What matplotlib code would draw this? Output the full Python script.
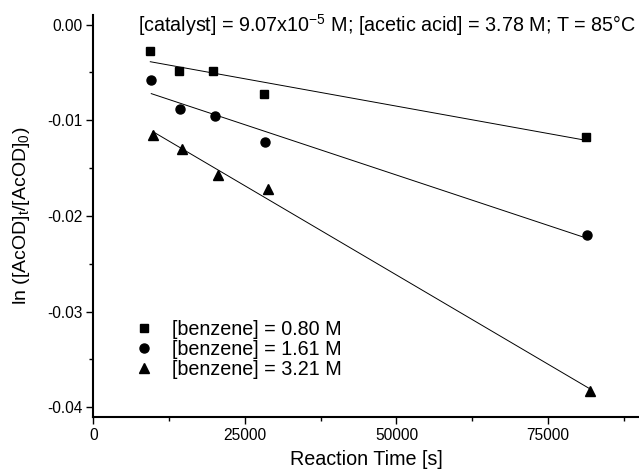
import numpy as np
import matplotlib
matplotlib.use("Agg")
import matplotlib.pyplot as plt
from matplotlib.ticker import MultipleLocator

plt.rcParams['font.family'] = ['Liberation Sans', 'DejaVu Sans']

# data
t_080 = [9400, 14100, 19800, 28100, 81300]
y_080 = [-0.00273, -0.00482, -0.00485, -0.0073, -0.01177]
t_161 = [9560, 14340, 20100, 28350, 81470]
y_161 = [-0.00577, -0.0088, -0.0095, -0.0123, -0.0220]
t_321 = [9840, 14620, 20500, 28840, 81970]
y_321 = [-0.0115, -0.0130, -0.0157, -0.0172, -0.0383]
labels = ["[benzene] = 0.80 M", "[benzene] = 1.61 M", "[benzene] = 3.21 M"]
markers = ["s", "o", "^"]
msizes = [6, 6.5, 7]

fig = plt.figure(figsize=(6.39, 4.71), dpi=100)
ax = fig.add_axes([0.146, 0.115, 0.854, 0.853])

for t, y, lab, m, ms in zip([t_080, t_161, t_321], [y_080, y_161, y_321], labels, markers, msizes):
    t = np.array(t); y = np.array(y)
    ax.plot(t, y, linestyle='none', marker=m, color='black', markersize=ms, label=lab)
    k, b = np.polyfit(t, y, 1)
    xs = np.array([t.min(), t.max()])
    ax.plot(xs, k * xs + b, color='black', linewidth=0.7)

ax.set_xlim(0, 90000)
ax.set_ylim(-0.041, 0.001)
ax.xaxis.set_minor_locator(MultipleLocator(12500))
ax.yaxis.set_minor_locator(MultipleLocator(0.005))
ax.set_yticks([0, -0.01, -0.02, -0.03, -0.04])
ax.set_yticklabels(["0.00", "-0.01", "-0.02", "-0.03", "-0.04"])
ax.set_xticks([0, 25000, 50000, 75000])
ax.set_xticklabels(["0", "25000", "50000", "75000"])

for s in ['top', 'right']:
    ax.spines[s].set_visible(False)
for s in ['left', 'bottom']:
    ax.spines[s].set_linewidth(1.5)
ax.tick_params(which='major', direction='out', length=5, width=1, labelsize=11.2, pad=3)
ax.tick_params(which='minor', direction='out', length=3, width=1)

ax.set_xlabel("Reaction Time [s]", fontsize=14.2, labelpad=5)
ax.set_ylabel("ln ([AcOD]$_\\mathregular{t}$/[AcOD]$_\\mathregular{0}$)", fontsize=14)
ax.yaxis.set_label_coords(-0.112, 0.5)

ax.text(0.995, 0.975, "[catalyst] = 9.07x10$^\\mathregular{-5}$ M; [acetic acid] = 3.78 M; T = 85°C",
        transform=ax.transAxes, ha='right', va='center', fontsize=14.2)

ax.legend(loc='lower left', bbox_to_anchor=(0.042, 0.05), frameon=False, fontsize=14.2,
          handletextpad=0.95, labelspacing=0.05, handlelength=1.0)

fig.savefig("out.png", dpi=100)
